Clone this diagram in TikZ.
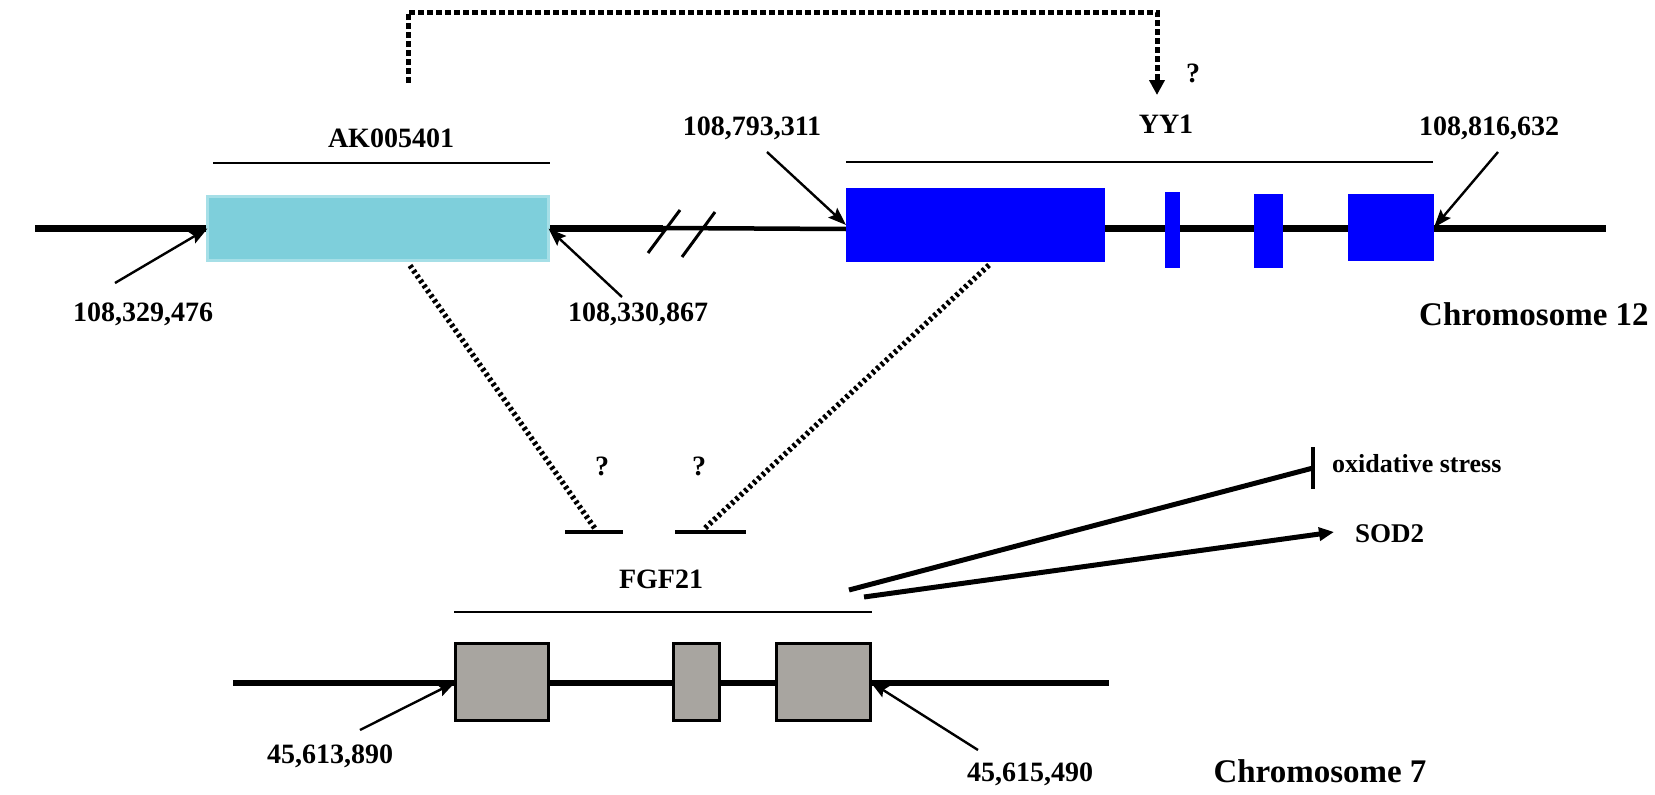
\documentclass[tikz,border=0pt]{standalone}
\usepackage{fontspec}
\setmainfont{Liberation Serif}
\usetikzlibrary{arrows.meta}
\definecolor{akcyan}{HTML}{7ECFDB}
\definecolor{akedge}{HTML}{A6DFE7}
\definecolor{yyblue}{HTML}{0000FF}
\definecolor{exgray}{HTML}{A8A5A0}
\begin{document}
\begin{tikzpicture}[x=1pt,y=-1pt,
  lbl/.style={font=\fontsize{28}{30}\selectfont\bfseries, inner sep=0pt, anchor=base},
  chrlbl/.style={font=\fontsize{33}{36}\selectfont\bfseries, inner sep=0pt, anchor=base},
  cyanbox/.style={draw=akedge, fill=akcyan, line width=3pt, inner sep=0pt, outer sep=0pt},
  bluebox/.style={fill=yyblue, inner sep=0pt, outer sep=0pt},
  graybox/.style={draw=black, fill=exgray, line width=3pt, inner sep=0pt, outer sep=0pt},
  chrline/.style={line width=7pt},
  spanline/.style={line width=2.5pt},
  posarrow/.style={line width=2.4pt, -{Stealth[length=18pt,width=13pt,inset=3pt]}},
  dashline/.style={line width=5pt, dash pattern=on 6pt off 3pt},
  dotline/.style={line width=5.5pt, dash pattern=on 3pt off 3pt},
  effline/.style={line width=5pt},
]
\useasboundingbox (0,0) rectangle (1655,795);
\fill[white] (0,0) rectangle (1655,795);

% ---------- Chromosome 12 ----------
\coordinate (c12l) at (35,228);
\coordinate (brkA) at (663,228);
\coordinate (c12r) at (1606,228);
\draw[chrline] (c12l) -- (brkA);
\draw[line width=4.5pt] (brkA) -- (846,229);
\draw[chrline] (846,228) -- (c12r);
% break marks
\coordinate (s1a) at (648,253); \coordinate (s1b) at (680,210);
\coordinate (s2a) at (682,257); \coordinate (s2b) at (715,212);
\draw[line width=3pt] (s1a) -- (s1b);
\draw[line width=3pt] (s2a) -- (s2b);

\node[cyanbox, minimum width=341pt, minimum height=64pt] (ak) at (378,228.5) {};
\node[bluebox, minimum width=259pt, minimum height=74pt] (yy) at (975.5,225) {};
\node[bluebox, minimum width=15pt, minimum height=76pt] (ex1) at (1172.5,230) {};
\node[bluebox, minimum width=29pt, minimum height=74pt] (ex2) at (1268.5,231) {};
\node[bluebox, minimum width=86pt, minimum height=67pt] (ex3) at (1391,227.5) {};

% span lines
\coordinate (aksl) at (213,163); \coordinate (aksr) at (550,163);
\draw[spanline] (aksl) -- (aksr);
\coordinate (yysl) at (846,162); \coordinate (yysr) at (1433,162);
\draw[spanline] (yysl) -- (yysr);

\node[lbl] (aklbl) at (391,147) {AK005401};
\node[lbl] (yylbl) at (1166,133) {YY1};
\node[lbl] (p1) at (143,321) {108,329,476};
\node[lbl] (p2) at (638,321) {108,330,867};
\node[lbl] (p3) at (752,135) {108,793,311};
\node[lbl] (p4) at (1489,135) {108,816,632};
\node[chrlbl, anchor=base west] (chr12) at (1419,325) {Chromosome 12};

\coordinate (a1) at (115,283);
\coordinate (a2) at (622,297);
\coordinate (a3) at (767,152);
\coordinate (a4) at (1498,152);
\draw[posarrow] (a1) -- (ak.west);
\draw[posarrow] (a2) -- (ak.east);
\draw[posarrow] (a3) -- (yy.west);
\draw[posarrow] (a4) -- (ex3.east);

% top regulatory bracket
\coordinate (brs) at (408,83);
\coordinate (brc) at (1157,12);
\coordinate (brt) at (1157,95);
\draw[dashline, -{Triangle[length=15pt,width=15pt]}] (brs) |- (brc) -- (brt);
\node[lbl] (q1) at (1193,82) {?};

% ---------- Chromosome 7 ----------
\coordinate (c7l) at (233,683);
\coordinate (c7r) at (1109,683);
\draw[line width=6pt] (c7l) -- (c7r);
\node[graybox, minimum width=93pt, minimum height=77pt] (g1) at (502,682) {};
\node[graybox, minimum width=46pt, minimum height=77pt] (g2) at (696.5,682) {};
\node[graybox, minimum width=94pt, minimum height=77pt] (g3) at (823.5,682) {};

\coordinate (fgsl) at (454,612); \coordinate (fgsr) at (872,612);
\draw[spanline] (fgsl) -- (fgsr);
\node[lbl] (fglbl) at (661,588) {FGF21};

\node[lbl] (p5) at (330,763) {45,613,890};
\node[lbl] (p6) at (1030,781) {45,615,490};
\node[chrlbl] (chr7) at (1320,782) {Chromosome 7};
\coordinate (a5) at (360,730);
\coordinate (a6) at (978,750);
\draw[posarrow] (a5) -- (g1.west);
\draw[posarrow] (a6) -- (g3.east);

% binding sites
\coordinate (b1l) at (565,532); \coordinate (b1r) at (623,532);
\coordinate (b2l) at (675,532); \coordinate (b2r) at (746,532);
\draw[line width=4pt] (b1l) -- (b1r);
\draw[line width=4pt] (b2l) -- (b2r);
\coordinate (d1) at (596,530);
\coordinate (d2) at (703,530);
\draw[dotline] (ak.south) ++(32,5) coordinate (d1s) (d1s) -- (d1);
\draw[dotline] (yy.south) ++(13.5,3) coordinate (d2s) (d2s) -- (d2);
\node[lbl] (q2) at (602,475) {?};
\node[lbl] (q3) at (699,475) {?};

% effects
\coordinate (e1) at (849,590);
\coordinate (e2) at (864,597);
\coordinate (ti) at (1313,468);
\coordinate (tt) at (1313,447);
\coordinate (tb) at (1313,489);
\draw[effline] (e1) -- (ti);
\draw[line width=4pt] (tt) -- (tb);
\coordinate (sodt) at (1334,532);
\draw[effline, -{Triangle[length=15pt,width=13pt]}] (e2) -- (sodt);
\node[lbl, anchor=base west, font=\fontsize{26}{28}\selectfont\bfseries] (ox) at (1332,472) {oxidative stress};
\node[lbl, anchor=base west, font=\fontsize{27}{29}\selectfont\bfseries] (sod) at (1355,542) {SOD2};
\end{tikzpicture}
\end{document}
